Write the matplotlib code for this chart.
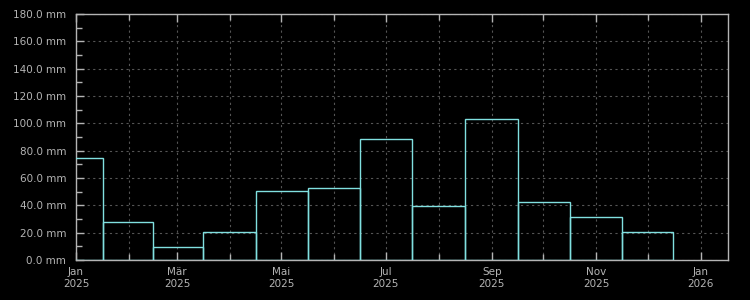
import matplotlib
matplotlib.use("Agg")
import matplotlib.pyplot as plt
import matplotlib.dates as mdates
import matplotlib.ticker as mticker
import numpy as np
import datetime as dt

# monthly precipitation, bars centred on the first day of each month
months = ["2025-01-01", "2025-02-01", "2025-03-01", "2025-04-01", "2025-05-01", "2025-06-01",
          "2025-07-01", "2025-08-01", "2025-09-01", "2025-10-01", "2025-11-01", "2025-12-01"]
rain_mm = [74.4, 27.6, 9.3, 20.3, 50.2, 52.4, 88.3, 39.3, 102.9, 42.2, 31.2, 20.3]

month_names = ["Jan", "Feb", "Mär", "Apr", "Mai", "Jun",
               "Jul", "Aug", "Sep", "Okt", "Nov", "Dez"]

dates = mdates.date2num([dt.datetime.strptime(m, "%Y-%m-%d") for m in months])

# bar edges halfway between neighbouring month starts
mids = (dates[:-1] + dates[1:]) / 2
lefts = np.concatenate([[dates[0] - (mids[0] - dates[0])], mids])
rights = np.concatenate([mids, [dates[-1] + (dates[-1] - mids[-1])]])

fg = "#b4b4b4"
edge = "#80e0e0"

fig = plt.figure(figsize=(7.5, 3), dpi=100, facecolor="black")
ax = fig.add_axes([76 / 750, 1 - 260 / 300, (728 - 76) / 750, (260 - 14) / 300])
ax.set_facecolor("black")

ax.bar(lefts, rain_mm, width=rights - lefts, align="edge", facecolor="none",
       edgecolor=edge, linewidth=1.0, zorder=3)

ax.set_xlim(mdates.date2num(dt.datetime(2025, 1, 1)), mdates.date2num(dt.datetime(2026, 1, 17)))
ax.set_ylim(0, 180)

# x axis: major every two months, minor every month
ax.xaxis.set_major_locator(mdates.MonthLocator(bymonth=[1, 3, 5, 7, 9, 11]))
ax.xaxis.set_minor_locator(mdates.MonthLocator())


def fmt_date(x, pos=None):
    d = mdates.num2date(x)
    return "%s\n%d" % (month_names[d.month - 1], d.year)


ax.xaxis.set_major_formatter(mticker.FuncFormatter(fmt_date))

ax.yaxis.set_major_locator(mticker.MultipleLocator(20))
ax.yaxis.set_minor_locator(mticker.MultipleLocator(10))
ax.yaxis.set_major_formatter(mticker.FuncFormatter(lambda v, p: "%.1f mm" % v))

ax.tick_params(axis="both", which="both", direction="in", colors=fg,
               labelcolor=fg, labelsize=7.5)
ax.tick_params(axis="x", which="both", top=True, bottom=True)
ax.tick_params(axis="y", which="both", left=True, right=False)
ax.tick_params(which="major", length=6, width=1)
ax.tick_params(which="minor", length=4, width=1)
ax.tick_params(axis="y", pad=7)
ax.tick_params(axis="x", pad=5)

grid_style = dict(color="#555555", linestyle=(0, (2, 3)), linewidth=0.8)
ax.grid(True, axis="y", which="major", **grid_style)
ax.grid(True, axis="x", which="both", **grid_style)
ax.set_axisbelow(True)

for s in ax.spines.values():
    s.set_color(fg)
    s.set_linewidth(1.0)

fig.savefig("out.png", dpi=100, facecolor="black")
